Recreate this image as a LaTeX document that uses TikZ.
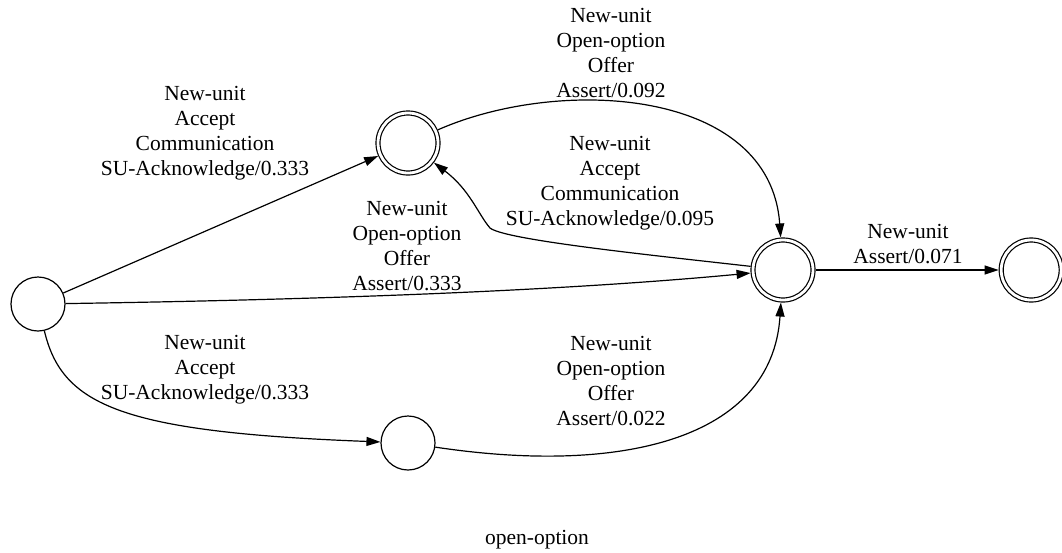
\documentclass[tikz,border=0pt]{standalone}
\usepackage{fontspec}
\setmainfont{Liberation Serif}
\usetikzlibrary{positioning,arrows.meta}
\tikzset{main node/.style={circle, draw, minimum size=54pt, inner sep=0pt, line width=1.2pt},
final node/.style={main node, minimum size=60pt, double, double distance=2.8pt, outer sep=2.6pt},
label node/.style={align=center, inner sep=0pt, font=\fontsize{21.5pt}{25pt}\selectfont},}

\begin{document}
\begin{tikzpicture}[->, >={Triangle[length=14pt,width=9pt]}, line width=1.2pt, x=1pt, y=-1pt]
        \useasboundingbox (0,0) rectangle (1062,552);
        % States
        \node[main node] (1) at (38,304) {};
        \node[final node] (2) at (408,143) {};
        \node[final node] (3) at (783,270) {};
        \node[final node] [right = 183pt of 3] (4) {};
        \node[main node] [below = 239.8pt of 2] (5) {};
        % Labels
        \node[label node] (l12) at (205,133) {New-unit\\Accept\\Communication\\SU-Acknowledge/0.333};
        \node[label node] (l23) at (611,53) {New-unit\\Open-option\\Offer\\Assert/0.092};
        \node[label node] (l32) at (610,183) {New-unit\\Accept\\Communication\\SU-Acknowledge/0.095};
        \node[label node] (l13) at (407,246) {New-unit\\Open-option\\Offer\\Assert/0.333};
        \node[label node] (l34) at (908,244) {New-unit\\Assert/0.071};
        \node[label node] (l15) at (205,370) {New-unit\\Accept\\SU-Acknowledge/0.333};
        \node[label node] (l53) at (611,381) {New-unit\\Open-option\\Offer\\Assert/0.022};
        \node[label node] (title) at (537,540) {open-option};
        % Transitions
        \draw (1) -- (2);
        \draw (2) .. controls (560,76) and (770,88) .. (3);
        \draw (3) .. controls (650,255) and (505,240) .. (490,228) .. controls (478,214) and (470,190) .. (2);
        \draw (1) .. controls (300,300) and (550,292) .. (3);
        \draw (3) -- (4);
        \draw (1) .. controls (62,405) and (120,432) .. (5);
        \draw (5) .. controls (620,475) and (772,440) .. (3);
\end{tikzpicture}
\end{document}
